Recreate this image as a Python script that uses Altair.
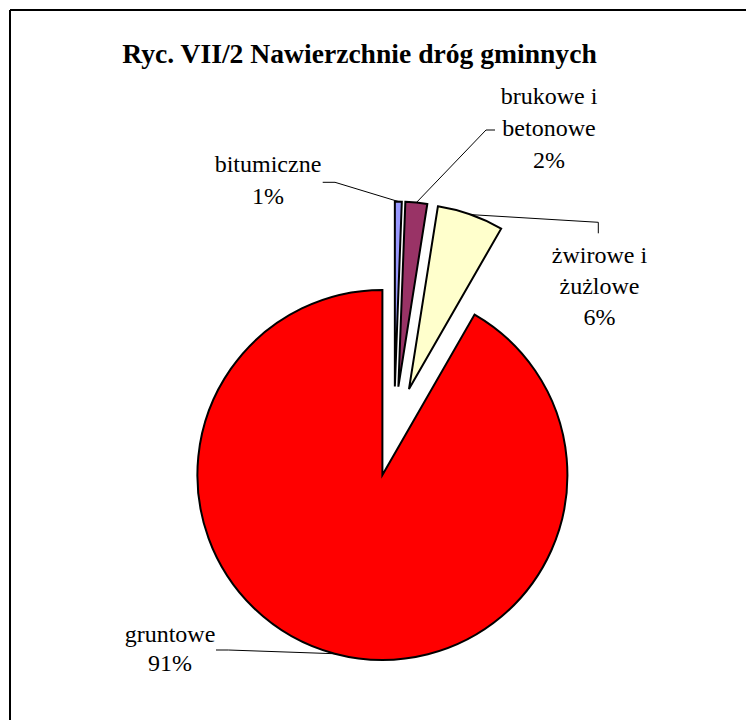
import altair as alt
import pandas as pd

# ---- data ----
title_text = "Ryc. VII/2 Nawierzchnie dróg gminnych"
categories = ["bitumiczne", "brukowe i betonowe", "żwirowe i żużlowe", "gruntowe"]
values = [0.6, 1.9, 5.8, 91.7]
percent_labels = ["1%", "2%", "6%", "91%"]
name_lines = [["bitumiczne"], ["brukowe i", "betonowe"], ["żwirowe i", "żużlowe"], ["gruntowe"]]
colors = ["#9999FF", "#993366", "#FFFFCC", "#FF0000"]

# ---- layout (chart pixel coordinates) ----
W, H = 738, 712
CX, CY = 386, 423.5      # centre of the un-exploded pie
R = 185                  # pie radius
EXPLODE = 45             # explosion distance
FONT = "Liberation Serif, Times New Roman, Times, serif"
LABEL_SIZE = 24
label_anchor = {         # centre x, first baseline y, line height
    "bitumiczne": (260, 163.7, 32),
    "brukowe i betonowe": (541, 96.3, 32),
    "żwirowe i żużlowe": (591.5, 254.7, 31),
    "gruntowe": (162, 633.7, 29.5),
}
leader_start = {
    "bitumiczne": (314.7, 174.3), "brukowe i betonowe": (487, 122),
    "żwirowe i żużlowe": (590.3, 225.3), "gruntowe": (208, 642),
}
leader_elbow = {
    "bitumiczne": (327, 174.3), "brukowe i betonowe": (478, 122),
    "żwirowe i żużlowe": (590.3, 214.3), "gruntowe": (220.3, 642),
}

df = pd.DataFrame({
    "order": list(range(len(categories))),
    "category": categories,
    "value": values,
    "sx": [leader_start[c][0] for c in categories],
    "sy": [leader_start[c][1] for c in categories],
    "bx": [leader_elbow[c][0] for c in categories],
    "by": [leader_elbow[c][1] for c in categories],
})

base = (
    alt.Chart(df)
    .transform_window(cum="sum(value)", sort=[alt.SortField("order")], frame=[None, 0])
    .transform_joinaggregate(total="sum(value)")
    .transform_calculate(t0="(datum.cum - datum.value) / datum.total * 2 * PI")
    .transform_calculate(t1="datum.cum / datum.total * 2 * PI")
    .transform_calculate(mid="(datum.t0 + datum.t1) / 2")
    .transform_calculate(cx=f"{CX} + {EXPLODE} * sin(datum.mid)")
    .transform_calculate(cy=f"{CY} - {EXPLODE} * cos(datum.mid)")
    .transform_calculate(ex=f"datum.cx + {R} * sin(datum.mid)")
    .transform_calculate(ey=f"datum.cy - {R} * cos(datum.mid)")
)

arcs = base.mark_arc(radius=R, stroke="black", strokeWidth=2, strokeJoin="miter").encode(
    theta=alt.Theta("t0:Q", scale=None, stack=None),
    theta2=alt.Theta2("t1:Q"),
    x=alt.X("cx:Q", scale=None),
    y=alt.Y("cy:Q", scale=None),
    color=alt.Color("category:N", scale=alt.Scale(domain=categories, range=colors), legend=None),
)

leader1 = base.mark_rule(color="black", strokeWidth=1).encode(
    x=alt.X("sx:Q", scale=None), y=alt.Y("sy:Q", scale=None),
    x2="bx:Q", y2="by:Q",
)
leader2 = base.mark_rule(color="black", strokeWidth=1).encode(
    x=alt.X("bx:Q", scale=None), y=alt.Y("by:Q", scale=None),
    x2="ex:Q", y2="ey:Q",
)

rows = []
for cat, lines, pct in zip(categories, name_lines, percent_labels):
    ax, ay, lh = label_anchor[cat]
    for i, line in enumerate(lines + [pct]):
        rows.append({"label": line, "lx": ax, "ly": ay + i * lh})
labels = alt.Chart(pd.DataFrame(rows)).mark_text(
    font=FONT, fontSize=LABEL_SIZE, fontWeight="normal", align="center",
    baseline="alphabetic", color="black"
).encode(
    x=alt.X("lx:Q", scale=None), y=alt.Y("ly:Q", scale=None), text="label:N"
)

title = alt.Chart(pd.DataFrame({"t": [title_text]})).mark_text(
    font=FONT, fontSize=27.6, fontWeight="bold", align="center", baseline="alphabetic", color="black"
).encode(x=alt.value(351.5), y=alt.value(55), text="t:N")

frame_top = alt.Chart(pd.DataFrame({"a": [0]})).mark_rule(color="black", strokeWidth=2).encode(
    x=alt.value(2), x2=alt.value(W), y=alt.value(2), y2=alt.value(2)
)
frame_left = alt.Chart(pd.DataFrame({"a": [0]})).mark_rule(color="black", strokeWidth=2).encode(
    x=alt.value(2), x2=alt.value(2), y=alt.value(2), y2=alt.value(H)
)

chart = alt.layer(frame_top, frame_left, leader1, leader2, arcs, labels, title).properties(
    width=W, height=H, padding=0, autosize=alt.AutoSizeParams(type="none"), background="white"
).configure_view(stroke=None)

chart.save("out.html", embed_options={"renderer": "svg", "actions": False})
